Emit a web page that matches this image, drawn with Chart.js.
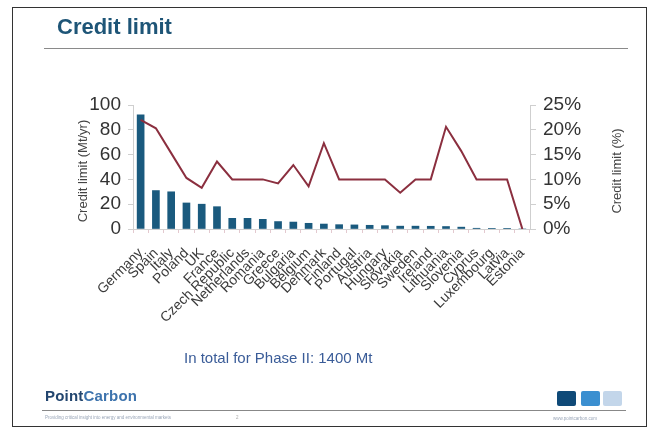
<!DOCTYPE html>
<html>
<head>
<meta charset="utf-8">
<script src="https://cdn.jsdelivr.net/npm/chart.js@4/dist/chart.umd.min.js"></script>
<style>
  html, body { margin:0; padding:0; background:#fff; }
  #wrap { position:relative; width:654px; height:434px; overflow:hidden; font-family:"Liberation Sans", Arial, sans-serif; }
  #frame { position:absolute; left:12px; top:7px; width:635px; height:420px; border:1.5px solid #333; box-sizing:border-box; }
  #title { position:absolute; left:57px; top:14px; font-size:22px; font-weight:bold; color:#1e5577; }
  #tline { position:absolute; left:44px; top:48px; width:584px; height:1px; background:#8a8a8a; }
  #total { position:absolute; left:184px; top:349px; font-size:15px; color:#3a5c98; }
  #logo { position:absolute; left:45px; top:387px; font-size:15px; font-weight:bold; letter-spacing:0.2px; }
  #logo .p { color:#23466f; } #logo .c { color:#3d73ad; }
  #fline { position:absolute; left:42px; top:410px; width:584px; height:1px; background:#888; }
  #tag { position:absolute; left:45px; top:415px; font-size:4.5px; color:#9aa6b8; }
  #pg { position:absolute; left:236px; top:415px; font-size:4.5px; color:#aaa; }
  #url { position:absolute; left:553px; top:416px; font-size:4.5px; color:#9aa6b8; }
  .sq { position:absolute; top:391px; width:19px; height:15px; border-radius:2px; }
  canvas { position:absolute; left:0; top:0; }
</style>
</head>
<body>
<div id="wrap">
  <canvas id="c" width="654" height="434"></canvas>
  <div id="frame"></div>
  <div id="title">Credit limit</div>
  <div id="tline"></div>
  <div id="total">In total for Phase II: 1400 Mt</div>
  <div id="logo"><span class="p">Point</span><span class="c">Carbon</span></div>
  <div id="fline"></div>
  <div id="tag">Providing critical insight into energy and environmental markets</div>
  <div id="pg">2</div>
  <div id="url">www.pointcarbon.com</div>
  <div class="sq" style="left:557px;background:#0f4a78;"></div>
  <div class="sq" style="left:581px;background:#3b8fd0;"></div>
  <div class="sq" style="left:603px;background:#c3d6ea;"></div>
</div>
<script>
const categories = ["Germany","Spain","Italy","Poland","UK","France","Czech Republic","Netherlands","Romania","Greece","Bulgaria","Belgium","Denmark","Finland","Portugal","Austria","Hungary","Slovakia","Sweden","Ireland","Lithuania","Slovenia","Cyprus","Luxembourg","Latvia","Estonia"];
const creditMt = [92, 31, 30, 21, 20, 18, 8.6, 8.6, 7.8, 6, 5.6, 4.6, 4, 3.5, 3.3, 3, 2.7, 2.3, 2.3, 2.2, 2, 1.5, 0.6, 0.3, 0.3, 0];
const creditPct = [22, 20.3, 15.3, 10.3, 8.3, 13.6, 10, 10, 10, 9.2, 12.9, 8.6, 17.3, 10, 10, 10, 10, 7.3, 10, 10, 20.6, 15.7, 10, 10, 10, 0];
const leftTicks = [0, 20, 40, 60, 80, 100];
const rightTicks = [0, 5, 10, 15, 20, 25];
const leftTitle = "Credit limit (Mt/yr)";
const rightTitle = "Credit limit (%)";

const axisTitles = {
  id: 'axisTitles',
  afterDraw(chart) {
    const ctx = chart.ctx;
    const a = chart.chartArea;
    const cy = (a.top + a.bottom) / 2 + 4;
    ctx.save();
    ctx.fillStyle = '#444';
    ctx.font = '13px "Liberation Sans", Arial, sans-serif';
    ctx.textAlign = 'center';
    ctx.textBaseline = 'middle';
    [[83, leftTitle], [617, rightTitle]].forEach(([x, t]) => {
      ctx.save();
      ctx.translate(x, cy);
      ctx.rotate(-Math.PI / 2);
      ctx.fillText(t, 0, 0);
      ctx.restore();
    });
    ctx.restore();
  }
};

const tickFont = { family: '"Liberation Sans", Arial, sans-serif', size: 19 };
new Chart(document.getElementById('c'), {
  data: {
    labels: categories,
    datasets: [
      { type: 'line', data: creditPct, yAxisID: 'y1', borderColor: '#8b2f3f', borderWidth: 2, pointRadius: 0, tension: 0, order: 0 },
      { type: 'bar', data: creditMt, yAxisID: 'y', backgroundColor: '#1a5a7e', barThickness: 7, order: 1 }
    ]
  },
  options: {
    responsive: false,
    animation: false,
    events: [],
    layout: { padding: { top: 105, left: 0, right: 0, bottom: 0 } },
    plugins: { legend: { display: false }, tooltip: { enabled: false } },
    scales: {
      x: {
        offset: true,
        afterFit: s => { s.height = 434 - 229; },
        grid: { display: true, drawOnChartArea: false, drawTicks: true, tickLength: 4, color: '#e3c9cf' },
        border: { color: '#cfcfcf' },
        ticks: { autoSkip: false, minRotation: 45, maxRotation: 45, padding: 12, color: '#3a3a3a', font: { family: '"Liberation Sans", Arial, sans-serif', size: 14 } }
      },
      y: {
        position: 'left',
        min: 0, max: 100,
        afterFit: s => { s.width = 133; },
        afterBuildTicks: s => { s.ticks = leftTicks.map(v => ({ value: v })); },
        grid: { drawOnChartArea: false, tickLength: 5, color: '#cfcfcf' },
        border: { color: '#cfcfcf' },
        ticks: { autoSkip: false, padding: 7, color: '#333', font: tickFont }
      },
      y1: {
        position: 'right',
        min: 0, max: 25,
        afterFit: s => { s.width = 654 - 530; },
        afterBuildTicks: s => { s.ticks = rightTicks.map(v => ({ value: v })); },
        grid: { drawOnChartArea: false, tickLength: 6, color: '#cfcfcf' },
        border: { color: '#cfcfcf' },
        ticks: { autoSkip: false, padding: 7, color: '#333', font: tickFont, callback: v => v + '%' }
      }
    }
  },
  plugins: [axisTitles]
});
</script>
</body>
</html>
